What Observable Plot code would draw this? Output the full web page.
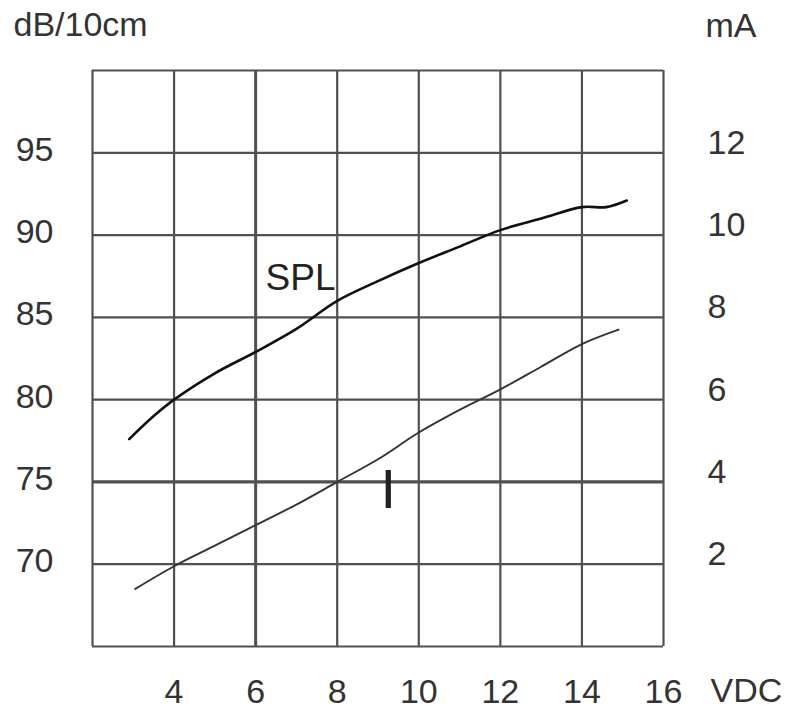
<!DOCTYPE html>
<html><head><meta charset="utf-8">
<script src="https://cdn.jsdelivr.net/npm/d3@7"></script>
<script src="https://cdn.jsdelivr.net/npm/@observablehq/plot@0.6"></script>
<style>body{margin:0;background:#fff}</style>
</head><body><div id="chart"></div>
<script>
// Axis ticks and grid
const voltTicks = [4, 6, 8, 10, 12, 14, 16];
const voltGrid = [2, 4, 6, 8, 10, 12, 14, 16];
const splTicks = [70, 75, 80, 85, 90, 95];
const splGrid = [65, 70, 75, 80, 85, 90, 95, 100];
const maTicks = [2, 4, 6, 8, 10, 12];

// SPL curve (dB/10cm vs VDC)
const splVolts  = [2.9, 3.5, 4.0, 5.0, 6.0, 7.0, 8.0, 9.0, 10.0, 11.0, 12.0, 13.0, 14.0, 14.6, 15.1];
const splValues = [77.6, 79.0, 80.0, 81.6, 82.9, 84.3, 86.0, 87.2, 88.3, 89.3, 90.3, 91.0, 91.7, 91.7, 92.1];

// Current curve (mA vs VDC)
const currentVolts  = [3.05, 4.0, 5.0, 6.0, 7.0, 8.0, 9.0, 10.0, 11.0, 12.0, 13.0, 14.0, 14.9];
const currentValues = [1.4, 1.95, 2.45, 2.95, 3.45, 4.0, 4.55, 5.2, 5.75, 6.25, 6.8, 7.35, 7.7];

// Curve labels
const curveLabels = ["SPL", "I"];
const labelVolts = [7.1, 9.25];
const labelLevels = [87.4, 74.5];

// right axis (mA) shares the vertical scale: 0 mA ↔ 65 dB, 14 mA ↔ 100 dB
const maToDb = m => 65 + 2.5 * m;

const spl = splVolts.map((v, i) => ({v, db: splValues[i]}));
const cur = currentVolts.map((v, i) => ({v, ma: currentValues[i]}));
const labels = curveLabels.map((t, i) => ({t, v: labelVolts[i], db: labelLevels[i]}));

const gridColor = "#505050";
const textColor = "#333";

const chart = Plot.plot({
  width: 787,
  height: 709,
  marginLeft: 92,
  marginRight: 124,
  marginTop: 70,
  marginBottom: 63,
  style: {fontFamily: "Liberation Sans, Arial, sans-serif", fontSize: "34px", color: textColor, background: "#fff"},
  x: {domain: [2, 16]},
  y: {domain: [65, 100]},
  marks: [
    Plot.ruleX(voltGrid, {stroke: gridColor, strokeWidth: d => d === 6 ? 3 : 2.2}),
    Plot.ruleY(splGrid, {stroke: gridColor, strokeWidth: d => d === 75 ? 3.2 : 2.2}),
    Plot.axisX(voltTicks, {anchor: "bottom", tickSize: 0, tickPadding: 32, label: null, fontSize: 34}),
    Plot.axisY(splTicks, {anchor: "left", tickSize: 0, tickPadding: 39, label: null, fontSize: 34, dy: -3}),
    Plot.axisY(maTicks.map(maToDb), {anchor: "right", tickSize: 0, tickPadding: 44, label: null, fontSize: 34, dy: -10, tickFormat: d => String((d - 65) / 2.5)}),
    Plot.line(spl, {x: "v", y: "db", stroke: "#111", strokeWidth: 2.6, curve: "catmull-rom"}),
    Plot.line(cur, {x: "v", y: d => maToDb(d.ma), stroke: "#333", strokeWidth: 1.9, curve: "catmull-rom"}),
    Plot.text(labels, {x: "v", y: "db", text: "t", lineAnchor: "middle", fill: "#222",
      fontSize: d => d.t === "I" ? 56 : 37, fontWeight: d => d.t === "I" ? "bold" : "normal"}),
    Plot.text(["dB/10cm"], {frameAnchor: "top-left", textAnchor: "start", lineAnchor: "bottom", dx: -79, dy: -35, fontSize: 34, fill: textColor}),
    Plot.text(["mA"], {frameAnchor: "top-right", textAnchor: "start", lineAnchor: "bottom", dx: 42, dy: -34, fontSize: 34, fill: textColor}),
    Plot.text(["VDC"], {frameAnchor: "bottom-right", textAnchor: "start", lineAnchor: "bottom", dx: 47, dy: 55, fontSize: 34, fill: textColor})
  ]
});
document.getElementById("chart").appendChild(chart);
</script>
</body></html>
